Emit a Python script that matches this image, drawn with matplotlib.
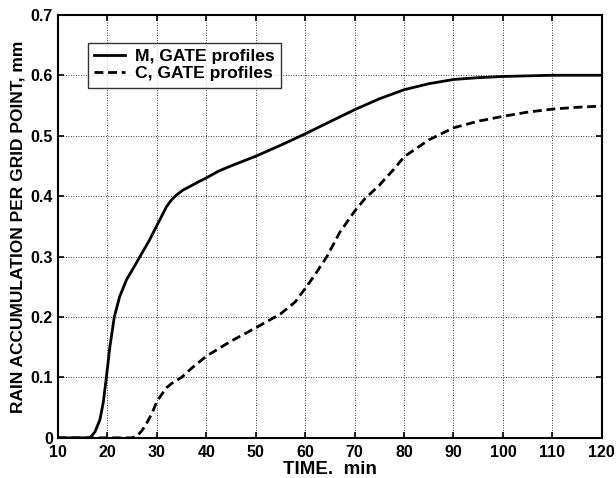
import numpy as np
import matplotlib.pyplot as plt

plt.rcParams['font.family'] = ['Liberation Sans', 'DejaVu Sans']
plt.rcParams['font.weight'] = 'bold'

# rain accumulation, M and C runs with GATE profiles
t_m = [10, 16.5, 17.5, 18.5, 19.2, 19.8, 20.5, 21.4, 22.5, 23.9, 25.2, 26.6,
       28.5, 30.3, 32, 33, 34, 35.3, 36.7, 38.5, 40, 42.4, 45, 50, 55, 60, 65,
       70, 75, 80, 85, 90, 95, 100, 110, 120]
acc_m = [0, 0, 0.01, 0.03, 0.06, 0.1, 0.15, 0.2, 0.234, 0.262, 0.28, 0.3,
         0.327, 0.356, 0.383, 0.394, 0.402, 0.41, 0.416, 0.424, 0.43, 0.441,
         0.45, 0.466, 0.484, 0.503, 0.523, 0.543, 0.561, 0.576, 0.586, 0.593,
         0.596, 0.598, 0.6, 0.6]

t_c = [10, 25, 26, 27, 28, 29, 30, 31, 32, 33, 35, 37, 40, 45, 50, 55, 58, 60,
       62, 64.4, 67, 70, 72, 75, 78, 80, 85, 90, 95, 100, 105, 110, 115, 120]
acc_c = [0, 0, 0.003, 0.012, 0.025, 0.04, 0.06, 0.072, 0.083, 0.09, 0.1, 0.115,
         0.135, 0.16, 0.182, 0.205, 0.225, 0.247, 0.27, 0.3, 0.34, 0.375, 0.395,
         0.418, 0.445, 0.465, 0.493, 0.513, 0.524, 0.532, 0.539, 0.544, 0.547,
         0.549]

fig = plt.figure(figsize=(6.16, 4.78), dpi=100)
ax = fig.add_axes([0.094, 0.084, 0.883, 0.885])

ax.plot(t_m, acc_m, color='black', lw=2.0, label='M, GATE profiles')
ax.plot(t_c, acc_c, color='black', lw=2.0, dashes=(3.2, 1.7), label='C, GATE profiles')

ax.set_xlim(10, 120)
ax.set_ylim(0, 0.7)
ax.set_xticks(np.arange(10, 121, 10))
ax.set_yticks(np.arange(0, 0.71, 0.1))
ax.set_yticklabels(['0', '0.1', '0.2', '0.3', '0.4', '0.5', '0.6', '0.7'])
ax.grid(True, color='black', linestyle=(0, (1, 2)), linewidth=0.6)
ax.tick_params(direction='in', length=4, width=1.2, top=True, right=True,
               labelsize=11.5)
ax.tick_params(axis='x', pad=5)
ax.tick_params(axis='y', pad=3.5)
for lab in ax.get_xticklabels() + ax.get_yticklabels():
    lab.set_fontweight('bold')
for sp in ax.spines.values():
    sp.set_linewidth(1.5)

ax.set_xlabel('TIME.  min', fontsize=13.5, fontweight='bold', labelpad=1)
ax.set_ylabel('RAIN ACCUMULATION PER GRID POINT, mm', fontsize=12.5,
              fontweight='bold', labelpad=4)

leg = ax.legend(loc='upper left', bbox_to_anchor=(0.055, 0.934), borderaxespad=0,
                frameon=True, fancybox=False, edgecolor='black',
                handlelength=1.75, handletextpad=0.6, borderpad=0.35,
                labelspacing=0.12, prop={'weight': 'bold', 'size': 12.6})
leg.get_frame().set_linewidth(1.0)

fig.savefig('out.png', dpi=100)
